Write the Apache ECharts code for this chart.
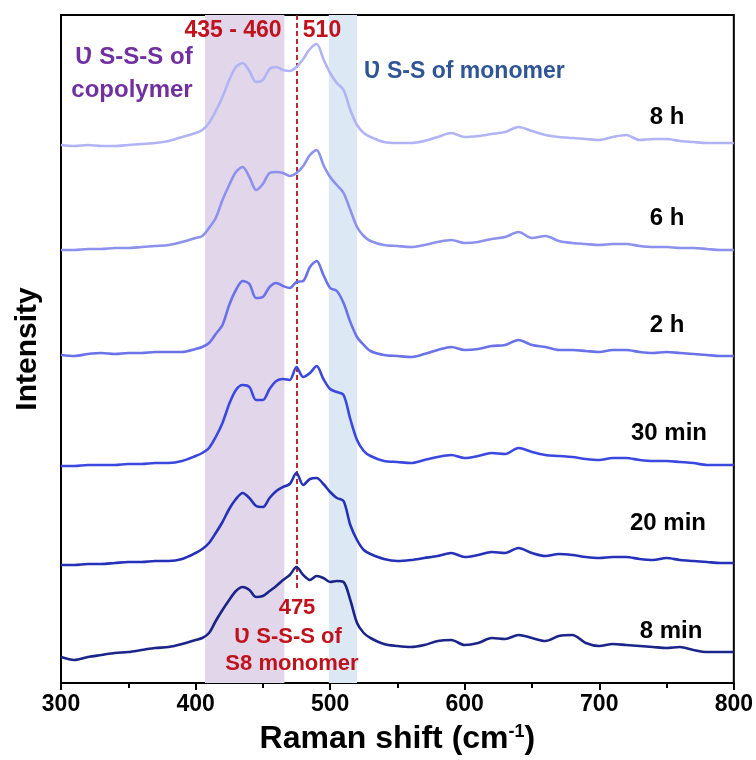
<!DOCTYPE html>
<html><head><meta charset="utf-8">
<script src="https://cdn.jsdelivr.net/npm/echarts@6/dist/echarts.min.js"></script>
<style>html,body{margin:0;padding:0;background:#fff}#c{width:756px;height:760px}</style>
</head><body><div id="c"></div>
<script>
const shifts = [300,310,320,330,340,350,360,370,380,390,400,405,410,415,420,425,430,435,440,445,450,455,460,465,470,475,480,485,490,495,500,505,510,515,520,525,530,540,550,560,570,580,590,600,610,620,630,640,650,660,670,680,690,700,710,720,730,740,750,760,770,780,790,800];
const min8  = [26,23,26,28,30,31,33,35,36,39,43,45,50,62,73,83,92,96,93,86,87,92,97,103,108,116,108,103,107,105,101,102,101,83,60,50,45,39,37,36,38,42,43,38,40,45,44,48,45,42,47,48,40,37,39,38,37,36,35,36,33,31,31,31];
const min20 = [118,118,119,119,120,121,121,122,122,124,130,134,140,150,161,174,184,190,185,177,176,185,192,196,199,210,198,204,205,199,191,185,182,158,143,133,129,124,122,123,125,127,130,126,128,131,130,135,130,127,129,128,126,125,126,126,124,123,125,123,122,121,120,120];
const min30 = [217,217,218,218,218,219,219,220,220,222,227,230,235,246,260,279,293,298,296,283,283,294,302,304,303,316,306,310,317,304,294,291,288,264,243,232,227,222,221,220,223,226,228,225,227,230,229,235,231,228,227,226,224,223,225,225,223,222,222,221,220,218,218,218];
const h2    = [328,327,329,330,329,330,330,331,331,331,334,336,340,349,358,378,393,402,399,385,386,396,400,397,395,401,402,416,422,408,395,392,380,361,346,338,332,328,327,326,329,333,336,333,334,337,338,343,338,336,333,333,332,331,333,333,331,330,331,330,329,328,327,327];
const h6    = [433,433,434,434,435,435,436,437,438,441,445,447,455,465,483,498,511,516,506,493,499,510,511,510,507,510,517,528,533,518,506,498,490,473,456,447,442,438,437,436,438,441,443,440,441,444,446,451,445,447,442,440,439,438,439,439,437,436,436,435,435,434,433,433];
const h8    = [538,537,538,537,537,538,539,540,542,546,550,553,560,572,586,603,616,620,612,601,603,614,616,613,612,616,624,634,639,624,610,600,593,573,558,550,546,541,540,540,542,546,550,546,547,549,551,556,552,548,546,545,544,543,546,548,543,544,544,542,541,540,540,540];
const seriesNames = ['8 min','20 min','30 min','2 h','6 h','8 h'];
const seriesData = [min8,min20,min30,h2,h6,h8];
const seriesColors = ['#1b2488','#2431b8','#3b48e0','#6a72ea','#8b91ec','#b0b4f4'];
const xTicks = [300,400,500,600,700,800];
const copolymerBand = [407,466];
const monomerBand = [499,520];
const s8Line = 475;

const chart = echarts.init(document.getElementById('c'), null, {renderer:'canvas'});
const F = '"Liberation Sans", Arial, sans-serif';
const series = seriesData.map((d,i)=>({
  name: seriesNames[i], type:'line', showSymbol:false, smooth:0.3,
  data: shifts.map((x,j)=>[x,d[j]]),
  lineStyle:{color:seriesColors[i], width:2.6}, z:5+i
}));
series.unshift({
  type:'line', data:[], silent:true, z:1,
  markArea:{silent:true, data:[
    [{xAxis:copolymerBand[0], itemStyle:{color:'#e2d6eb'}},{xAxis:copolymerBand[1]}],
    [{xAxis:monomerBand[0], itemStyle:{color:'#dde8f5'}},{xAxis:monomerBand[1]}]
  ]},
  markLine:{silent:true, symbol:'none', label:{show:false},
    lineStyle:{color:'#b5121b', type:[5,3], width:1.8},
    data:[[{coord:[s8Line,95]},{coord:[s8Line,668]}]]}
});
const txt = (x,y,text,color,size,align)=>({type:'text', x, y, style:{text, fill:color, font:'bold '+size+'px '+F, textAlign:align||'left', textVerticalAlign:'middle'}, z:50});
chart.setOption({
  animation:false,
  grid:{left:61, right:22, top:15, bottom:77, show:true, borderColor:'#000', borderWidth:2},
  xAxis:{type:'value', min:300, max:800, interval:100,
    axisLine:{lineStyle:{color:'#000', width:2}},
    axisTick:{show:true, inside:false, length:7, lineStyle:{width:2,color:'#000'}},
    minorTick:{show:true, splitNumber:2, length:5, lineStyle:{width:2,color:'#000'}},
    splitLine:{show:false},
    axisLabel:{color:'#000', fontFamily:F, fontWeight:'bold', fontSize:23, margin:10},
    name:'{a|Raman shift (cm}{s|-1}{a|)}', nameLocation:'middle', nameGap:40,
    nameTextStyle:{rich:{a:{fontFamily:F, fontWeight:'bold', fontSize:32, color:'#000'}, s:{fontFamily:F, fontWeight:'bold', fontSize:18, color:'#000', verticalAlign:'top', padding:[0,0,14,0]}}}
  },
  yAxis:{type:'value', min:0, max:668, axisLabel:{show:false}, axisTick:{show:false}, splitLine:{show:false},
    axisLine:{show:true, lineStyle:{color:'#000', width:2}},
    name:'Intensity', nameLocation:'middle', nameGap:18,
    nameTextStyle:{fontFamily:F, fontWeight:'bold', fontSize:30, color:'#000'}},
  series,
  graphic:[
    txt(233,31,'435 - 460','#c0121c',23,'center'),
    txt(322,31,'510','#c0121c',23,'center'),
    txt(134,57,'Ʋ S-S-S of','#7030a0',24,'center'),
    txt(132,90,'copolymer','#7030a0',24,'center'),
    txt(364,72,'Ʋ S-S of monomer','#2f5597',23),
    txt(667,117,'8 h','#000',24,'center'),
    txt(667,218,'6 h','#000',24,'center'),
    txt(667,325,'2 h','#000',24,'center'),
    txt(669,433,'30 min','#000',24,'center'),
    txt(668,523,'20 min','#000',24,'center'),
    txt(671,631,'8 min','#000',24,'center'),
    txt(297,608,'475','#c0121c',22,'center'),
    txt(288,637,'Ʋ S-S-S of','#c0121c',22,'center'),
    txt(292,664,'S8 monomer','#c0121c',22,'center')
  ]
});
</script></body></html>
